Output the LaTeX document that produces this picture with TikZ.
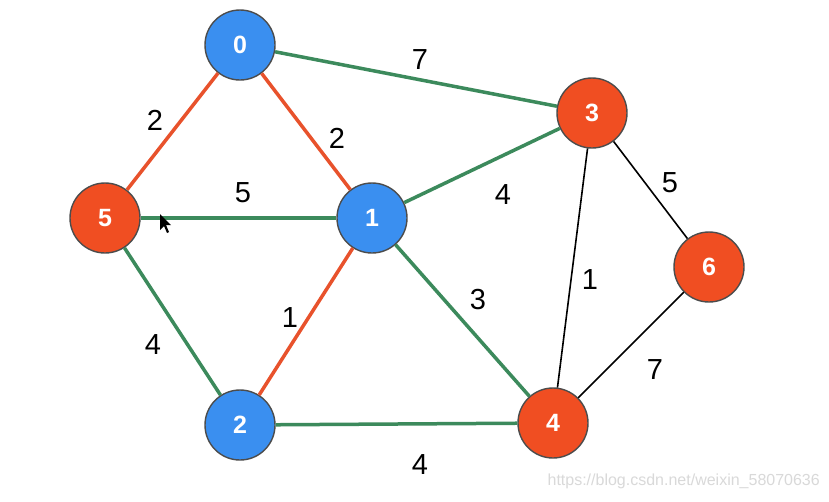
\documentclass[tikz,border=0pt]{standalone}
\usepackage{fontspec}
\setmainfont{Liberation Sans}
\begin{document}
\begin{tikzpicture}[x=1pt,y=-1pt,
  vtx/.style={circle,minimum size=70pt,inner sep=0pt,draw=black!70,line width=1.4pt,text=white,font=\fontsize{25}{25}\selectfont\bfseries},
  bluev/.style={vtx,fill={rgb,255:red,58;green,143;blue,240}},
  redv/.style={vtx,fill={rgb,255:red,240;green,78;blue,34}},
  gedge/.style={line width=3.5pt,draw={rgb,255:red,60;green,138;blue,92}},
  redge/.style={line width=3.5pt,draw={rgb,255:red,232;green,82;blue,44}},
  kedge/.style={line width=1.6pt,draw=black},
  wlab/.style={font=\fontsize{29}{29}\selectfont,text=black,inner sep=0pt}]
\useasboundingbox (0,0) rectangle (829,501);
\fill[white] (0,0) rectangle (829,501);
\node[bluev] (n0) at (240,45) {0};
\node[redv] (n5) at (105,218) {5};
\node[bluev] (n1) at (372,218) {1};
\node[bluev] (n2) at (240,425) {2};
\node[redv] (n3) at (592,113) {3};
\node[redv] (n4) at (553,423) {4};
\node[redv] (n6) at (709,267) {6};
\draw[gedge] (n0) -- (n3);
\draw[redge] (n0) -- (n5);
\draw[redge] (n0) -- (n1);
\draw[gedge] (n5) -- (n1);
\draw[gedge] (n1) -- (n3);
\draw[redge] (n1) -- (n2);
\draw[gedge] (n1) -- (n4);
\draw[gedge] (n5) -- (n2);
\draw[gedge] (n2) -- (n4);
\draw[kedge] (n3) -- (n4);
\draw[kedge] (n3) -- (n6);
\draw[kedge] (n4) -- (n6);
\node[wlab] (l03) at (420,60) {7};
\node[wlab] (l05) at (155,120) {2};
\node[wlab] (l01) at (337,138) {2};
\node[wlab] (l51) at (243,193) {5};
\node[wlab] (l13) at (503,195) {4};
\node[wlab] (l36) at (670,183) {5};
\node[wlab] (l34) at (590,280) {1};
\node[wlab] (l14) at (478,300) {3};
\node[wlab] (l12) at (290,318) {1};
\node[wlab] (l52) at (153,345) {4};
\node[wlab] (l46) at (655,370) {7};
\node[wlab] (l24) at (420,465) {4};
\fill[black] (160,214) -- (160,230) -- (164,226) -- (167,233) -- (169,232) -- (166,225) -- (171,225) -- cycle;
\node[font=\fontsize{16}{16}\selectfont,text=black!15,anchor=east,inner sep=0pt] (wm) at (820,481) {https://blog.csdn.net/weixin\_58070636};
\end{tikzpicture}
\end{document}
